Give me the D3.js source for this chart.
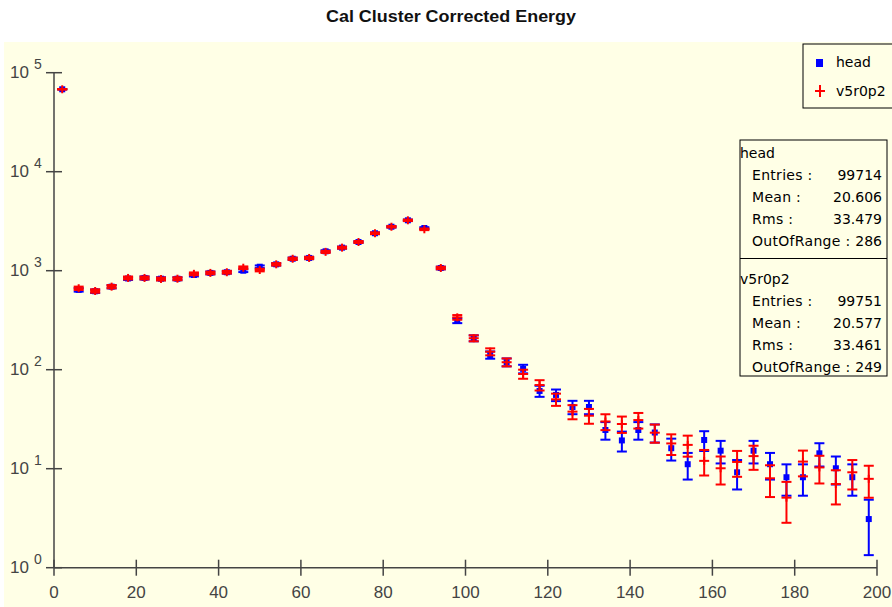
<!DOCTYPE html>
<html lang="en">
<head>
<meta charset="UTF-8">
<script src="https://cdn.jsdelivr.net/npm/d3@7"></script>
<title>Cal Cluster Corrected Energy</title>
<style>
  body { margin: 0; background: #fff; }
  svg text { font-family: "Liberation Sans", Arial, sans-serif; }
  .box text { font-family: "DejaVu Sans", sans-serif; font-size: 14px; fill: #000; }
</style>
</head>
<body>
<script>
// bin centres (bin width 4)
const binCenters = [2, 6, 10, 14, 18, 22, 26, 30, 34, 38, 42, 46, 50, 54, 58, 62, 66, 70, 74, 78,
  82, 86, 90, 94, 98, 102, 106, 110, 114, 118, 122, 126, 130, 134, 138, 142, 146, 150, 154, 158,
  162, 166, 170, 174, 178, 182, 186, 190, 194, 198];

const headCounts = [68000, 640, 620, 690, 835, 845, 830, 830, 905, 950, 965, 1000, 1097, 1160, 1320, 1345, 1570, 1710, 1950, 2390,
  2780, 3230, 2700, 1065, 313, 208, 141, 119, 102, 61, 55.6, 42, 42, 24.6, 19.3, 24.6, 23.2, 16.1, 11.1, 19.5,
  15.2, 9.2, 15.2, 11.1, 8.2, 8.2, 14.3, 10.1, 8.2, 3.1];

const v5r0p2Counts = [68000, 665, 624, 690, 845, 845, 825, 830, 930, 950, 965, 1072, 1016, 1160, 1320, 1345, 1550, 1710, 1950, 2390,
  2780, 3230, 2620, 1065, 338, 208, 152, 119, 90.5, 70, 50.2, 37.7, 34.3, 30, 28.3, 31, 23.1, 18, 17.4, 12,
  10.1, 11.7, 13.4, 8, 5.1, 11.8, 10.3, 7, 9.2, 7.9];

const xTicks = [0, 20, 40, 60, 80, 100, 120, 140, 160, 180, 200];
const yExponents = [0, 1, 2, 3, 4, 5];

const headStats = [["Entries :", "99714"], ["Mean :", "20.606"], ["Rms :", "33.479"], ["OutOfRange :", "286"]];
const v5r0p2Stats = [["Entries :", "99751"], ["Mean :", "20.577"], ["Rms :", "33.461"], ["OutOfRange :", "249"]];

const W = 892, H = 607;
const svg = d3.select("body").append("svg").attr("width", W).attr("height", H);

svg.append("rect").attr("x", 4).attr("y", 42).attr("width", W - 4).attr("height", H - 42).attr("fill", "#ffffe6");

svg.append("text").attr("x", 451).attr("y", 22).attr("text-anchor", "middle")
  .attr("font-size", 16).attr("font-weight", "bold").attr("fill", "#111")
  .attr("textLength", 250).attr("lengthAdjust", "spacingAndGlyphs")
  .text("Cal Cluster Corrected Energy");

const x = d3.scaleLinear().domain([0, 200]).range([54, 877]);
const y = d3.scaleLog().domain([1, 1e5]).range([567.7, 72.7]);

const axisCol = "#444";
// y axis
svg.append("line").attr("x1", x(0)).attr("x2", x(0)).attr("y1", y(1e5)).attr("y2", y(1))
  .attr("stroke", axisCol).attr("stroke-width", 1.5);
const yt = svg.append("g").selectAll("g").data(yExponents).join("g");
yt.append("line").attr("x1", x(0) - 8).attr("x2", x(0) + 8)
  .attr("y1", d => y(Math.pow(10, d))).attr("y2", d => y(Math.pow(10, d)))
  .attr("stroke", axisCol).attr("stroke-width", 1.5);
yt.append("text").attr("x", 10).attr("y", d => y(Math.pow(10, d)) + 5)
  .attr("font-size", 17).attr("fill", axisCol).text("10");
yt.append("text").attr("x", 34).attr("y", d => y(Math.pow(10, d)) - 4)
  .attr("font-size", 14).attr("fill", axisCol).text(d => d);

// x axis
svg.append("line").attr("x1", x(0)).attr("x2", x(200)).attr("y1", y(1)).attr("y2", y(1))
  .attr("stroke", axisCol).attr("stroke-width", 1.5);
const xt = svg.append("g").selectAll("g").data(xTicks).join("g");
xt.append("line").attr("x1", d => x(d)).attr("x2", d => x(d))
  .attr("y1", y(1) - 8).attr("y2", y(1) + 8).attr("stroke", axisCol).attr("stroke-width", 1.5);
xt.append("text").attr("x", d => x(d)).attr("y", 598).attr("text-anchor", "middle")
  .attr("font-size", 17).attr("fill", axisCol).text(d => d);

// points with Poisson error bars (sqrt N)
function drawSeries(values, color, marker) {
  const g = svg.append("g").attr("stroke", color).attr("fill", color).attr("stroke-width", 2);
  const pts = g.selectAll("g").data(binCenters.map((c, i) => ({ c, v: values[i] }))).join("g");
  const hi = d => y(d.v + Math.sqrt(d.v));
  const lo = d => y(Math.max(d.v - Math.sqrt(d.v), 1));
  pts.append("line").attr("x1", d => x(d.c)).attr("x2", d => x(d.c)).attr("y1", hi).attr("y2", lo);
  pts.append("line").attr("x1", d => x(d.c) - 5).attr("x2", d => x(d.c) + 5).attr("y1", hi).attr("y2", hi);
  pts.append("line").attr("x1", d => x(d.c) - 5).attr("x2", d => x(d.c) + 5).attr("y1", lo).attr("y2", lo);
  if (marker === "square") {
    pts.append("rect").attr("x", d => x(d.c) - 3).attr("y", d => y(d.v) - 3)
      .attr("width", 6).attr("height", 6).attr("stroke", "none");
  } else {
    pts.append("line").attr("x1", d => x(d.c) - 5).attr("x2", d => x(d.c) + 5)
      .attr("y1", d => y(d.v)).attr("y2", d => y(d.v));
    pts.append("line").attr("x1", d => x(d.c)).attr("x2", d => x(d.c))
      .attr("y1", d => y(d.v) - 4).attr("y2", d => y(d.v) + 4);
  }
}
drawSeries(headCounts, "#0000ff", "square");
drawSeries(v5r0p2Counts, "#ff0000", "plus");

// legend
const leg = svg.append("g").attr("class", "box");
leg.append("rect").attr("x", 803).attr("y", 44).attr("width", 100).attr("height", 64)
  .attr("fill", "#ffffe6").attr("stroke", "#000");
leg.append("rect").attr("x", 816).attr("y", 59).attr("width", 7).attr("height", 8).attr("fill", "#0000ff");
leg.append("text").attr("x", 836).attr("y", 67).text("head");
leg.append("line").attr("x1", 815).attr("x2", 825).attr("y1", 91).attr("y2", 91).attr("stroke", "#ff0000").attr("stroke-width", 2);
leg.append("line").attr("x1", 820).attr("x2", 820).attr("y1", 85).attr("y2", 97).attr("stroke", "#ff0000").attr("stroke-width", 2);
leg.append("text").attr("x", 836).attr("y", 96).text("v5r0p2");

// stats box
const st = svg.append("g").attr("class", "box");
st.append("rect").attr("x", 740).attr("y", 140).attr("width", 147).attr("height", 236)
  .attr("fill", "#ffffe6").attr("stroke", "#000");
st.append("line").attr("x1", 740).attr("x2", 887).attr("y1", 258.5).attr("y2", 258.5).attr("stroke", "#000");
function statBlock(name, rows, top) {
  st.append("text").attr("x", 740).attr("y", top).text(name);
  rows.forEach((r, i) => {
    st.append("text").attr("x", 752).attr("y", top + 22 * (i + 1)).attr("letter-spacing", 0.3).text(r[0]);
    st.append("text").attr("x", 882).attr("y", top + 22 * (i + 1)).attr("text-anchor", "end").text(r[1]);
  });
}
statBlock("head", headStats, 158);
statBlock("v5r0p2", v5r0p2Stats, 284);
</script>
</body>
</html>
